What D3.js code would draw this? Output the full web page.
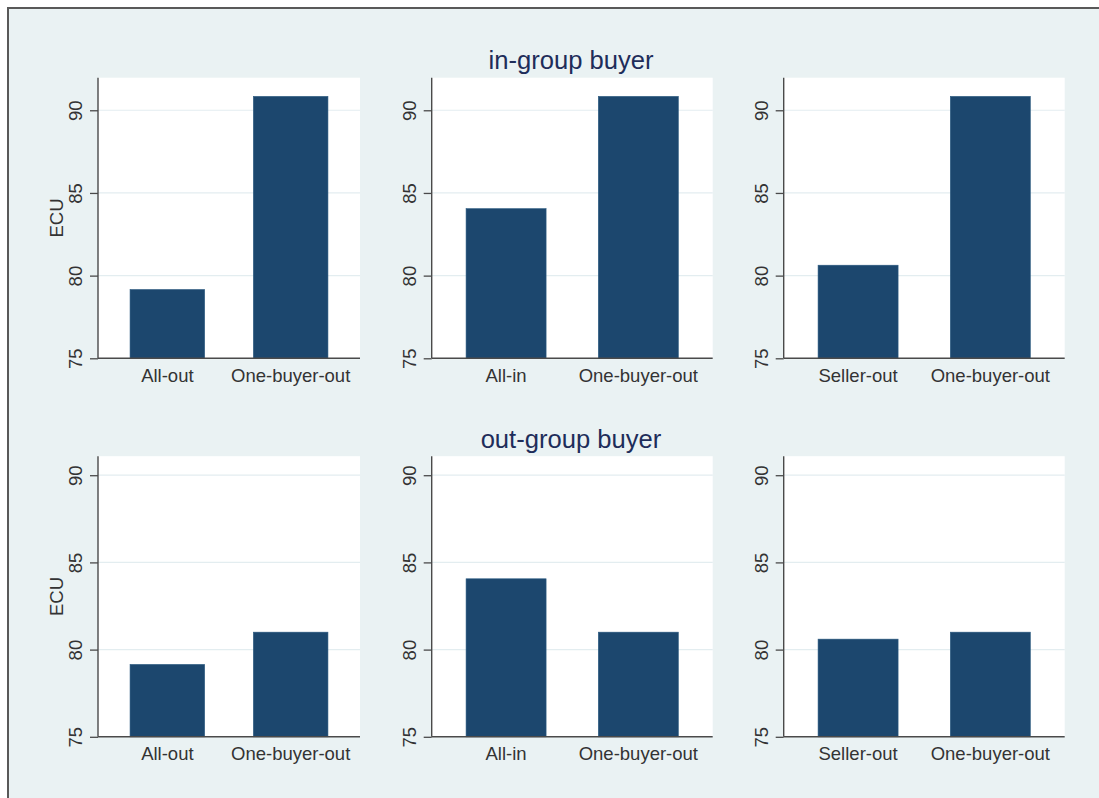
<!DOCTYPE html>
<html>
<head>
<meta charset="utf-8">
<script src="https://cdn.jsdelivr.net/npm/d3@7"></script>
<style>
  html, body { margin: 0; padding: 0; background: #ffffff; }
  svg { display: block; }
  text { font-family: "Liberation Sans", Arial, Helvetica, sans-serif; }
</style>
</head>
<body>
<svg id="chart" width="1099" height="798"></svg>
<script>
// Mean payoffs (ECU) by treatment, split by buyer group
const rowTitles = ["in-group buyer", "out-group buyer"];
const panelCategories = [
  ["All-out", "One-buyer-out"],
  ["All-in", "One-buyer-out"],
  ["Seller-out", "One-buyer-out"]
];
const inGroupValues = [
  [79.16, 90.84],
  [84.05, 90.84],
  [80.63, 90.84]
];
const outGroupValues = [
  [79.15, 81.0],
  [84.06, 81.0],
  [80.6, 81.0]
];
const yTicks = [75, 80, 85, 90];
const yAxisTitle = "ECU";
const rowDomainMax = [91.97, 91.09];

const svg = d3.select("#chart");
const W = 1099, H = 798;

// Outer graph region with frame on top and left
svg.append("rect").attr("x", 8).attr("y", 8).attr("width", W).attr("height", H)
  .attr("fill", "#eaf2f3");
svg.append("path")
  .attr("d", `M8,${H + 2} L8,8 L${W + 2},8`)
  .attr("fill", "none").attr("stroke", "#595959").attr("stroke-width", 2);

const colX = [[98, 360], [431.7, 712.7], [783.7, 1064.7]];
const rowY = [[77.7, 358.3], [456.2, 736.8]];
const titleBaseline = [68.8, 448.2];
const allValues = [inGroupValues, outGroupValues];

rowY.forEach((ry, r) => {
  svg.append("text")
    .attr("x", 571).attr("y", titleBaseline[r])
    .attr("text-anchor", "middle")
    .attr("font-size", 25.6)
    .attr("fill", "#1e2d5a")
    .text(rowTitles[r]);

  colX.forEach((cx, c) => {
    const g = svg.append("g");
    const x = d3.scaleBand()
      .domain(panelCategories[c])
      .range(cx)
      .paddingInner(0.395)
      .paddingOuter(0.26);
    const y = d3.scaleLinear().domain([75, rowDomainMax[r]]).range([ry[1], ry[0]]);

    // plot area
    g.append("rect")
      .attr("x", cx[0]).attr("y", ry[0])
      .attr("width", cx[1] - cx[0]).attr("height", ry[1] - ry[0])
      .attr("fill", "#ffffff");

    // gridlines
    g.selectAll("line.grid").data(yTicks.filter(t => t > 75)).join("line")
      .attr("class", "grid")
      .attr("x1", cx[0]).attr("x2", cx[1])
      .attr("y1", d => y(d)).attr("y2", d => y(d))
      .attr("stroke", "#e3edf0").attr("stroke-width", 1.2);

    // bars
    const vals = allValues[r][c];
    g.selectAll("rect.bar").data(panelCategories[c].map((k, i) => ({ k, v: vals[i] }))).join("rect")
      .attr("class", "bar")
      .attr("x", d => x(d.k))
      .attr("width", x.bandwidth())
      .attr("y", d => y(d.v))
      .attr("height", d => y(75) - y(d.v))
      .attr("fill", "#1c476e")
      .attr("stroke", "#2b5a80").attr("stroke-width", 0.6);

    // y axis
    const ya = g.append("g")
      .attr("transform", `translate(${cx[0]},0)`)
      .call(d3.axisLeft(y).tickValues(yTicks).tickSize(8).tickSizeOuter(0));
    ya.select(".domain").attr("stroke", "#4a4a4a").attr("stroke-width", 1.4)
      .attr("d", `M0,${ry[0]}V${ry[1]}`);
    ya.selectAll(".tick line").attr("stroke", "#4a4a4a").attr("stroke-width", 1.3);
    ya.selectAll(".tick text")
      .attr("x", null).attr("dy", null).attr("y", null)
      .attr("transform", "translate(-16,0) rotate(-90)")
      .attr("text-anchor", "middle")
      .attr("font-size", 18.5)
      .attr("font-family", "Liberation Sans, Arial, sans-serif")
      .attr("fill", "#333333");

    // x axis
    const xa = g.append("g")
      .attr("transform", `translate(0,${ry[1]})`)
      .call(d3.axisBottom(x).tickSize(0).tickSizeOuter(0));
    xa.select(".domain").attr("stroke", "#4a4a4a").attr("stroke-width", 1.4)
      .attr("d", `M${cx[0]},0H${cx[1]}`);
    xa.selectAll(".tick text")
      .attr("y", 23.5).attr("dy", null)
      .attr("font-size", 18.5)
      .attr("font-family", "Liberation Sans, Arial, sans-serif")
      .attr("fill", "#333333");

    if (c === 0) {
      g.append("text")
        .attr("transform", `translate(62.5,${(ry[0] + ry[1]) / 2}) rotate(-90)`)
        .attr("text-anchor", "middle")
        .attr("font-size", 18.5)
        .attr("fill", "#333333")
        .text(yAxisTitle);
    }
  });
});
</script>
</body>
</html>
